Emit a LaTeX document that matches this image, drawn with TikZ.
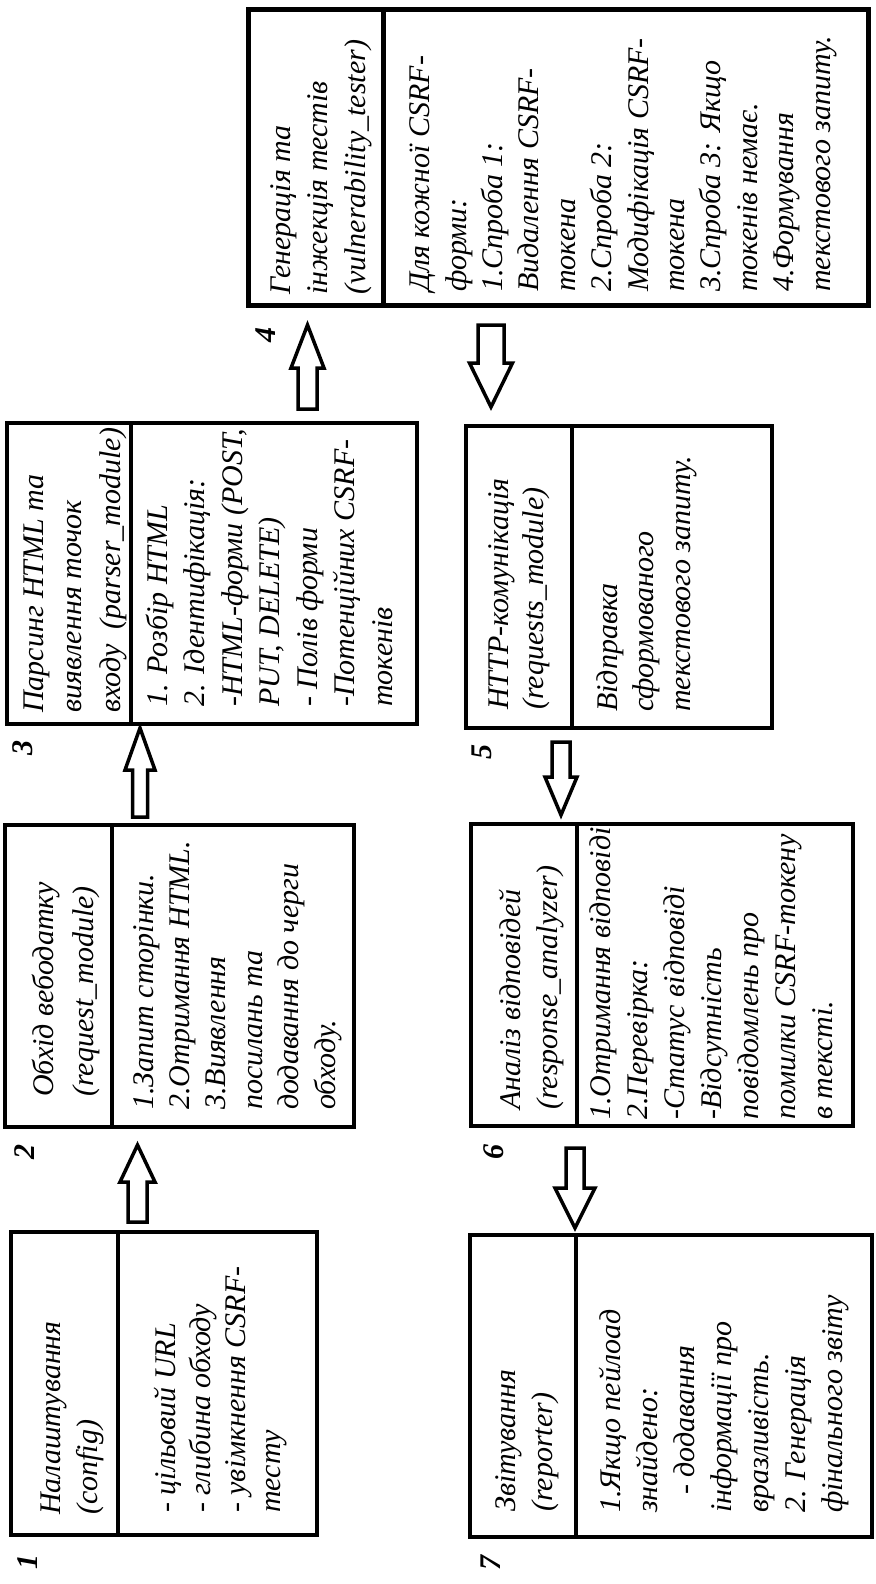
\documentclass[tikz,border=0pt]{standalone}
\usepackage{fontspec}
\setmainfont{Liberation Serif}
\usetikzlibrary{calc}

\tikzset{
  part/.style 2 args={draw, line width=4pt, inner sep=0pt, outer sep=0pt,
    minimum width=#1pt, minimum height=#2pt},
  % text is placed by the baseline of its last line
  txt/.style={rotate=90, anchor=base west, align=left, inner sep=0pt,
    font=\fontsize{30pt}{#1pt}\selectfont\itshape},
  num/.style={rotate=90, inner sep=0pt,
    font=\fontsize{30pt}{36pt}\selectfont\bfseries\itshape},
  arrowline/.style={draw, line width=3.5pt, line join=miter},
}

% hollow block arrow: #1 start, #2 tip, #3 shaft half width,
% #4 head half width, #5 head length
\newcommand{\blockarrow}[5]{%
  \draw[arrowline] let \p1=(#1), \p2=(#2), \n1={sign(\y2-\y1)} in
    ({\x1-#3pt},{\y1}) -- ({\x1-#3pt},{\y2-(\n1)*#5pt})
    -- ({\x1-#4pt},{\y2-(\n1)*#5pt}) -- (\x2,\y2)
    -- ({\x1+#4pt},{\y2-(\n1)*#5pt}) -- ({\x1+#3pt},{\y2-(\n1)*#5pt})
    -- ({\x1+#3pt},{\y1}) -- cycle;}

\begin{document}
\begin{tikzpicture}[x=1pt,y=-1pt]
\useasboundingbox (0,0) rectangle (875,1584);

% ---- compartments: title part (t) and body part (b) of every block
\node[part={107}{303}] (t1) at (64.5,1383.5) {};
\node[part={199}{303}] (b1) at (217.5,1383.5) {};

\node[part={107}{302}] (t2) at (58.5,976) {};
\node[part={242}{302}] (b2) at (233,976) {};

\node[part={124}{301}] (t3) at (69,573.5) {};
\node[part={286}{301}] (b3) at (274,573.5) {};

\node[part={135}{295}, line width=5pt] (t4) at (315.5,157.5) {};
\node[part={485}{295}, line width=5pt] (b4) at (625.5,157.5) {};

\node[part={106}{302}] (t5) at (519,577) {};
\node[part={200}{302}] (b5) at (672,577) {};

\node[part={106}{302}] (t6) at (524,975) {};
\node[part={276}{302}] (b6) at (715,975) {};

\node[part={106}{302}] (t7) at (523,1386) {};
\node[part={296}{302}] (b7) at (724,1386) {};

% ---- block numbers
\node[num] (n1) at (28,1562) {1};
\node[num] (n2) at (25,1152) {2};
\node[num] (n3) at (23,748) {3};
\node[num] (n4) at (266,335) {4};
\node[num] (n5) at (482,752) {5};
\node[num] (n6) at (494,1152) {6};
\node[num] (n7) at (491,1563) {7};

% ---- texts
\node[txt=37] (x1t) at (97,1515) {Налаштування\\(config)};
\node[txt=35] (x1b) at (280,1513) {- цільовий URL\\- глибина обходу\\- увімкнення CSRF-\\тесту};

\node[txt=40] (x2t) at (93,1097) {Обхід вебодатку\\(request\_module)};
\node[txt=36.4] (x2b) at (335,1110) {1.Запит сторінки.\\2.Отримання HTML.\\3.Виявлення\\посилань та\\додавання до черги\\обходу.};

\node[txt=38.5] (x3t) at (120,713) {Парсинг HTML та\\виявлення точок\\входу\ \ (parser\_module)};
\node[txt=37.5] (x3b) at (392,707) {1. Розбір HTML\\2. Ідентифікація:\\-HTML-форми (POST,\\PUT, DELETE)\\- Полів форми\\-Потенційних CSRF-\\токенів};

\node[txt=37.5] (x4t) at (365,295) {Генерація та\\інжекція тестів\\(vulnerability\_tester)};
\node[txt=36.4] (x4b) at (830,292) {Для кожної CSRF-\\форми:\\1.Спроба 1:\\Видалення CSRF-\\токена\\2.Спроба 2:\\Модифікація CSRF-\\токена\\3.Спроба 3: Якщо\\токенів немає.\\4.Формування\\текстового запиту.};

\node[txt=35] (x5t) at (543,710) {HTTP-комунікація\\(requests\_module)};
\node[txt=36.5] (x5b) at (690,712) {Відправка\\сформованого\\текстового запиту.};

\node[txt=37] (x6t) at (557,1110) {Аналіз відповідей\\(response\_analyzer)};
\node[txt=37] (x6b) at (832,1120) {1.Отримання відповіді\\2.Перевірка:\\-Статус відповіді\\-Відсутність\\повідомлень про\\помилки CSRF-токену\\в тексті.};

\node[txt=37] (x7t) at (552,1512) {Звітування\\(reporter)};
\node[txt=37] (x7b) at (842,1513) {1.Якщо пейлоад\\знайдено:\\\hspace*{18pt}- додавання\\інформації про\\вразливість.\\2. Генерація\\фінального звіту};

% ---- arrow end points, set from the blocks they join
\coordinate (a12s) at ($(b1.north west)+(19.5,-10)$);
\coordinate (a12e) at ($(b2.south west)+(25.5,18)$);
\coordinate (a23s) at ($(b2.north west)+(28,-8)$);
\coordinate (a23e) at ($(b3.south west)+(9,4)$);
\coordinate (a34s) at ($(b3.north west)+(176.5,-14)$);
\coordinate (a34e) at ($(t4.south west)+(59.5,20)$);
\coordinate (a45s) at ($(b4.south west)+(108,20)$);
\coordinate (a45e) at ($(t5.north west)+(25,-19)$);
\coordinate (a56s) at ($(t5.south west)+(95,14)$);
\coordinate (a56e) at ($(t6.north west)+(90,-9)$);
\coordinate (a67s) at ($(t6.south west)+(104,22)$);
\coordinate (a67e) at ($(t7.north west)+(105,-7)$);

% ---- block arrows
\blockarrow{a12s}{a12e}{9.5}{17.5}{37}
\blockarrow{a23s}{a23e}{7.5}{15}{42}
\blockarrow{a34s}{a34e}{9.5}{16.5}{43}
\blockarrow{a45s}{a45e}{13}{21.5}{44}
\blockarrow{a56s}{a56e}{9}{16}{38}
\blockarrow{a67s}{a67e}{9}{20}{40}
\end{tikzpicture}
\end{document}
